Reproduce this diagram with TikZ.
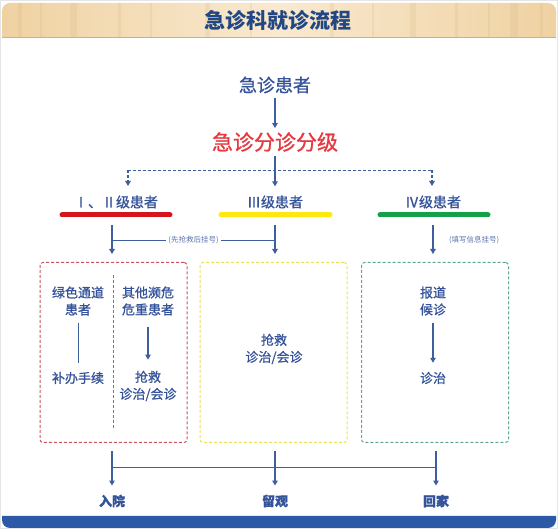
\documentclass[tikz,border=0pt]{standalone}
\usepackage{fontspec}
\newfontfamily\cjk{Noto Sans CJK SC}
\newfontfamily\cjkmed[FakeBold=0.9]{Noto Sans CJK SC}
\usetikzlibrary{arrows.meta,positioning,calc}
\definecolor{ink}{HTML}{34539A}
\definecolor{flow}{HTML}{3F5E9E}
\definecolor{alarm}{HTML}{E5393F}
\definecolor{ruby}{HTML}{D4151C}
\definecolor{lemon}{HTML}{FFE810}
\definecolor{leaf}{HTML}{13A049}
\definecolor{navy}{HTML}{2B59A6}
\definecolor{wooda}{HTML}{EFD2A2}
\definecolor{woodb}{HTML}{F9E9CF}
\definecolor{woodc}{HTML}{D2AE7E}
\definecolor{redbox}{HTML}{C9545E}
\definecolor{yellowbox}{HTML}{EDE15A}
\definecolor{greenbox}{HTML}{5FA88A}
\colorlet{headline}{navy!80!black}

\begin{document}
\begin{tikzpicture}[x=1pt,y=-1pt,font=\cjk,
    txt/.style={text=ink,align=center,inner sep=2pt,font=\cjkmed\fontsize{13}{17}\selectfont},
    lvl/.style={text=ink,inner sep=3pt,font=\cjkmed\fontsize{14}{16}\selectfont},
    note/.style={text=ink!80,fill=white,inner sep=2pt,font=\cjk\fontsize{7.5}{9}\selectfont},
    arr/.style={flow,line width=1.1pt,-{Triangle[width=5.5pt,length=5pt]}},
    link/.style={flow,line width=0.9pt},
    dash3/.style={dash pattern=on 3pt off 2pt},
    tier/.style={line width=5pt,line cap=round},
    gap/.style={shorten <=5pt,shorten >=7pt},
    zone/.style={draw,dash3,line width=1pt,rounded corners=3pt,
                 minimum width=147pt,minimum height=180pt}]
    \useasboundingbox (0,0) rectangle (558,529);
    \fill[white] (0,0) rectangle (558,529);
    \draw[gray!20,line width=1pt] (0.5,0.5) rectangle (557.5,528.5);

    % banner
    \shade[left color=wooda,right color=wooda,middle color=woodb]
      (2,38) [rounded corners=8pt] -- (2,3) -- (556,3) [sharp corners] -- (556,38) -- cycle;
    \foreach \x/\w in {18/4,40/2,70/7,118/3,150/2,205/5,250/2,330/4,372/2,410/6,455/3,488/2,510/8,540/3}
      \fill[woodc,opacity=.18] (\x,3) rectangle ++(\w,35);
    \draw[woodc,line width=1pt] (2,37.5) -- (556,37.5);
    \node[text=headline,font=\cjk\bfseries\fontsize{21}{24}\selectfont]
      (title) at (278,20) {急诊科就诊流程};

    % triage
    \node[text=ink,inner sep=4pt,font=\cjkmed\fontsize{18}{20}\selectfont]
      (patient) at (275,85) {急诊患者};
    \node[text=alarm,inner sep=4pt,font=\cjkmed\fontsize{21}{24}\selectfont]
      (triage) at (275,142) {急诊分诊分级};
    \draw[arr] (patient) -- (triage);

    \node[lvl] (lv12) at (116,202) {Ⅰ、Ⅱ级患者};
    \node[lvl] (lv3) at (275,202) {Ⅲ级患者};
    \node[lvl] (lv4) at (433,202) {Ⅳ级患者};
    \coordinate (fork) at (275,170);
    \coordinate (drop12) at (128,186);
    \coordinate (drop4) at (432,186);
    \draw[arr,shorten >=6pt] (triage) -- (lv3);
    \draw[link,dash3] (drop12 |- fork) -- (drop4 |- fork);
    \draw[arr,dash3] (drop12 |- fork) -- (drop12);
    \draw[arr,dash3] (drop4 |- fork) -- (drop4);

    \draw[tier,ruby]  (62,215) -- (170,215);
    \draw[tier,lemon] (221,215) -- (330,215);
    \draw[tier,leaf]  (380,215) -- (488,215);

    % zones
    \node[zone,draw=redbox]    (zone12) at (113.5,352.5) {};
    \node[zone,draw=yellowbox] (zone3)  at (273.5,352.5) {};
    \node[zone,draw=greenbox]  (zone4)  at (435,352.5) {};

    \coordinate (up12) at (112,225);
    \coordinate (up3) at (275,225);
    \coordinate (up4) at (433,225);
    \draw[arr,shorten >=8pt] (up12) -- (up12 |- zone12.north);
    \draw[arr,shorten >=8pt] (up3) -- (up3 |- zone3.north);
    \draw[arr,shorten >=8pt] (up4) -- (up4 |- zone4.north);
    \draw[link] (up12 |- 0,240) -- node[note] {(先抢救后挂号)} (up3 |- 0,240);
    \node[note,anchor=west] (regnote) at (447,240) {(填写信息挂号)};

    \draw[redbox,dash3,line width=1pt] (113,275) -- (113,430);
    \node[txt] (green) at (78,301) {绿色通道\\患者};
    \node[txt] (paper) at (78,378) {补办手续};
    \draw[link,gap] (green) -- (paper);
    \node[txt] (severe) at (148,301) {其他濒危\\危重患者};
    \node[txt] (rescue) at (148,386) {抢救\\诊治/会诊};
    \draw[arr,shorten <=9pt,shorten >=9pt] (severe) -- (rescue);

    \node[txt] (treat3) at (274,349) {抢救\\诊治/会诊};

    \node[txt] (wait) at (433,301) {报道\\候诊};
    \node[txt] (treat4) at (433,378) {诊治};
    \draw[arr,gap] (wait) -- (treat4);

    % outcomes
    \node[txt,inner sep=3pt,font=\cjkmed\bfseries\fontsize{13}{17}\selectfont]
      (admit) at (112,501) {入院};
    \node[txt,inner sep=3pt,font=\cjkmed\bfseries\fontsize{13}{17}\selectfont]
      (observe) at (275,501) {留观};
    \node[txt,inner sep=3pt,font=\cjkmed\bfseries\fontsize{13}{17}\selectfont]
      (home) at (436,501) {回家};
    \coordinate (out12) at (112,451);
    \coordinate (out3) at (275,451);
    \coordinate (out4) at (436,451);
    \draw[link] (out12 |- 0,467) -- (out4 |- 0,467);
    \draw[arr,shorten >=6pt] (out12) -- (admit);
    \draw[arr,shorten >=6pt] (out3) -- (observe);
    \draw[arr,shorten >=6pt] (out4) -- (home);

    \fill[navy] (2,516) [rounded corners=8pt] -- (2,528) -- (556,528)
      [sharp corners] -- (556,516) -- cycle;
\end{tikzpicture}
\end{document}
